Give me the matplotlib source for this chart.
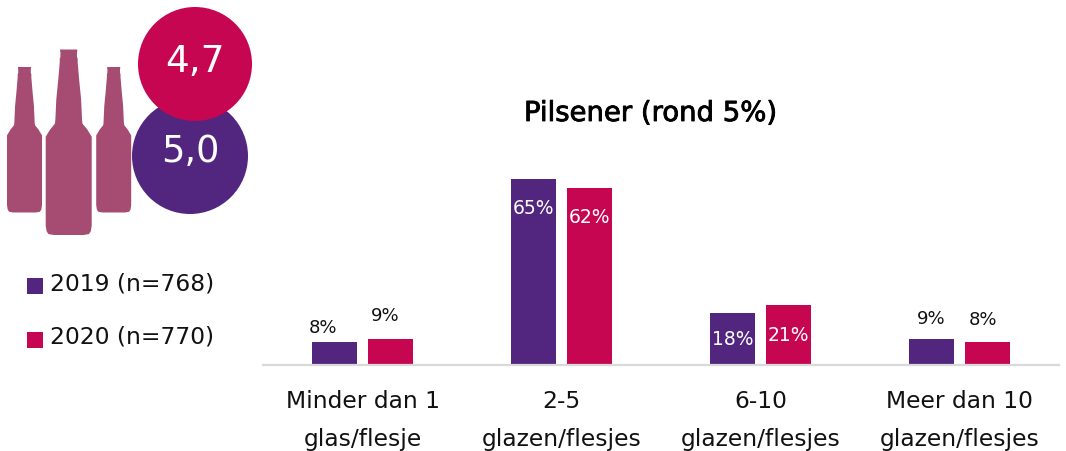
import matplotlib
matplotlib.use("Agg")
import matplotlib.pyplot as plt
import matplotlib.patheffects as pe
import numpy as np
from matplotlib.patches import Circle, Polygon, Rectangle

# --- Data ---
categories = ["Minder dan 1\nglas/flesje", "2-5\nglazen/flesjes", "6-10\nglazen/flesjes", "Meer dan 10\nglazen/flesjes"]
values_2019 = [8, 65, 18, 9]
values_2020 = [9, 62, 21, 8]
legend_2019 = "2019 (n=768)"
legend_2020 = "2020 (n=770)"
avg_2019 = "5,0"
avg_2020 = "4,7"
title = "Pilsener (rond 5%)"

PURPLE = "#52267F"
RED = "#C60651"
BOTTLE = "#A64C72"
FONT = "DejaVu Sans"
W, H = 1066, 452

plt.rcParams["font.family"] = FONT
fig = plt.figure(figsize=(W / 100, H / 100), dpi=100)

# --- Bars ---
base_y = 365.5
top_y = 365.5 - 100 * 2.85
ax = fig.add_axes([263 / W, 1 - base_y / H, 796 / W, (base_y - top_y) / H])
x = np.arange(len(categories))
bw = 45 / 199
off = 28 / 199
ax.bar(x - off, values_2019, bw, color=PURPLE)
ax.bar(x + off, values_2020, bw, color=RED)
ax.set_xlim(-0.5, 3.5)
ax.set_ylim(0, 100)
ax.patch.set_alpha(0)
for s in ["top", "left", "right"]:
    ax.spines[s].set_visible(False)
ax.spines["bottom"].set_color("#D9D9D9")
ax.spines["bottom"].set_linewidth(1.6)
ax.set_yticks([])
ax.set_xticks(x)
ax.set_xticklabels(categories, fontsize=16.8, color="#111111", linespacing=1.82)
ax.tick_params(axis="x", length=0, pad=17.5)

# small labels sit a bit off-centre in the original (dx, dy in pixels)
nudge_2019 = {0: (-11, 1), 3: (0, -5)}
nudge_2020 = {0: (-5, -8), 3: (-5, -7)}

for xs, vals, nudge in [(x - off, values_2019, nudge_2019), (x + off, values_2020, nudge_2020)]:
    for i, (xi, v) in enumerate(zip(xs, vals)):
        if v > 40:
            ax.text(xi, v - 10, f"{v}%", ha="center", va="center", color="white", fontsize=13.5)
        elif v > 15:
            ax.text(xi, v / 2, f"{v}%", ha="center", va="center", color="white", fontsize=13.5)
        else:
            dx, dy = nudge[i]
            ax.annotate(f"{v}%", (xi, v), xytext=(dx * 0.72, (7 - dy) * 0.72), textcoords="offset points",
                        ha="center", va="bottom", color="#111111", fontsize=13)

# --- Decoration in pixel coordinates ---
ov = fig.add_axes([0, 0, 1, 1])
ov.set_xlim(0, W)
ov.set_ylim(H, 0)
ov.axis("off")
ov.patch.set_alpha(0)

# half-profile of a bottle: half width and height as fractions
prof_hw = [0.38, 0.36, 0.36, 0.39, 0.39, 0.46, 0.54, 0.58, 0.60, 0.80, 1.0, 1.0, 0.96, 0.88, 0.65]
prof_y = [0.0, 0.015, 0.04, 0.05, 0.07, 0.17, 0.27, 0.38, 0.40, 0.43, 0.47, 0.95, 0.98, 0.995, 1.0]


def bottle(cx, top, bottom, hw):
    ys = [top + p * (bottom - top) for p in prof_y]
    right = [(cx + p * hw, y) for p, y in zip(prof_hw, ys)]
    left = [(cx - p * hw, y) for p, y in zip(prof_hw, ys)]
    ov.add_patch(Polygon(right + left[::-1], closed=True, fc=BOTTLE, ec="none"))


bottle(24.5, 68, 213.5, 17.5)
bottle(68.7, 50.5, 236, 23)
bottle(113.7, 68, 213.5, 17.5)

ov.add_patch(Circle((190, 157), 58, fc=PURPLE, ec="none"))
ov.add_patch(Circle((195, 65), 57, fc=RED, ec="none"))
ov.text(190.5, 152, avg_2019, color="white", fontsize=26.5, ha="center", va="center")
ov.text(195, 62, avg_2020, color="white", fontsize=27, ha="center", va="center")

ov.add_patch(Rectangle((27, 279), 16, 16, fc=PURPLE, ec="none"))
ov.add_patch(Rectangle((27, 333), 16, 16, fc=RED, ec="none"))
ov.text(50, 284, legend_2019, fontsize=16.8, ha="left", va="center", color="#111111")
ov.text(50, 337, legend_2020, fontsize=16.8, ha="left", va="center", color="#111111")

t = ov.text(651, 114, title, fontsize=19.8, ha="center", va="center", color="black")
t.set_path_effects([pe.withStroke(linewidth=0.6, foreground="black")])

fig.savefig("out.png", dpi=100)
